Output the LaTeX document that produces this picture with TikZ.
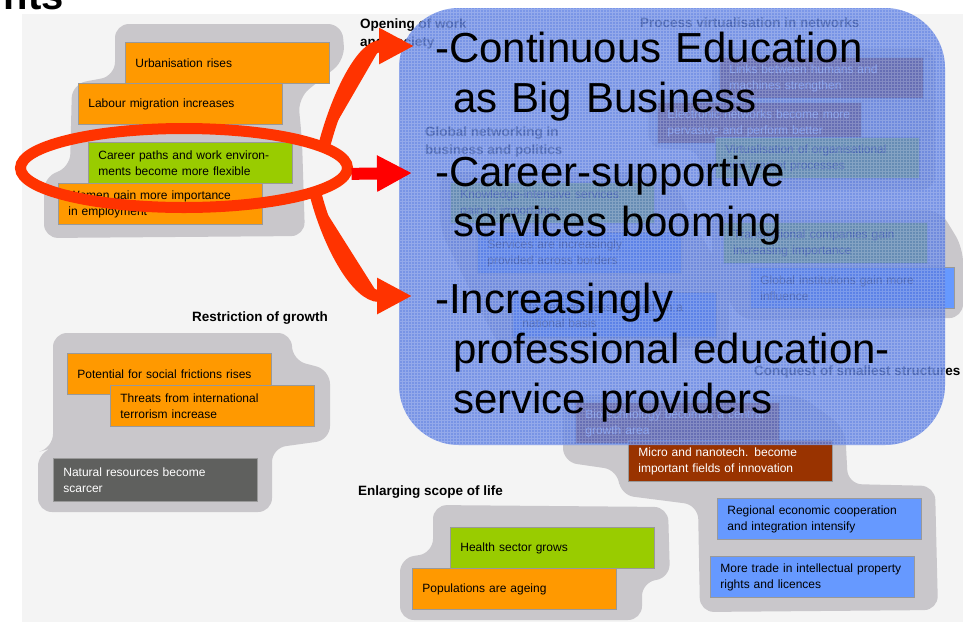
\documentclass[tikz,border=0pt]{standalone}
\usepackage{fontspec}
\setmainfont{Liberation Sans}
\usepackage{tikz}
\usetikzlibrary{positioning, shapes.geometric, arrows.meta}

\definecolor{boxorange}{HTML}{FF9900}
\definecolor{boxgreen}{HTML}{99CC00}
\definecolor{boxblue}{HTML}{6699FF}
\definecolor{boxbrown}{HTML}{993300}
\definecolor{boxdark}{HTML}{5F605E}
\definecolor{blobgray}{HTML}{C9C7CB}
\definecolor{slidebg}{HTML}{F4F4F4}
\definecolor{markred}{HTML}{FF3300}
\definecolor{overblue}{HTML}{5A7DE2}

\tikzset{
  box/.style={draw=gray!80, line width=0.8pt, anchor=north west, minimum height=41pt,
    text width=184pt, inner xsep=10pt, align=left, font=\fontsize{12}{16}\selectfont},
  lbl/.style={anchor=west, align=left, inner sep=0pt, font=\bfseries\fontsize{13.5}{18}\selectfont},
  bigtext/.style={anchor=base west, inner sep=0pt, text width=520pt, align=left,
    font=\fontsize{42}{50}\selectfont},
  blob/.style={fill=blobgray, rounded corners=14pt},
  redarrow/.style={draw=markred, fill=markred, line width=12pt, -{Triangle[length=35pt,width=34pt]}}
}

\begin{document}
\begin{tikzpicture}[x=1pt,y=-1pt]
\useasboundingbox (0,0) rectangle (963,622);
\clip (0,0) rectangle (963,622);
\fill[slidebg] (22,14) rectangle (963,622);
\node[anchor=base east, inner sep=0pt, font=\bfseries\fontsize{40}{48}\selectfont] (title) at (64,9) {nts};

\fill[blob] (115,24) -- (342,24) -- (345,60) -- (298,98) -- (302,140) -- (305,236) -- (44,238)
  -- (44,176) -- (70,168) -- (72,84) -- (115,76) -- cycle;
\fill[blob] (53,333) -- (292,333) -- (292,360) -- (330,370) -- (330,440) -- (272,448)
  -- (272,512) -- (38,512) -- (38,452) -- (53,448) -- cycle;
\fill[blob] (433,505) -- (668,507) -- (670,578) -- (642,582) -- (642,620) -- (400,620)
  -- (400,558) -- (433,553) -- cycle;
\fill[blob] (563,395) -- (800,395) -- (845,428) -- (848,484) -- (935,486) -- (938,610)
  -- (700,612) -- (698,505) -- (620,495) -- (618,470) -- (563,462) -- cycle;
\fill[blob] (712,48) -- (935,48) -- (935,190) -- (700,190) -- (700,150) -- (648,148)
  -- (648,95) -- (712,92) -- cycle;
\fill[blob] (440,172) -- (670,172) -- (695,225) -- (730,285) -- (728,348) -- (500,348)
  -- (465,280) -- (440,230) -- cycle;
\fill[blob] (712,210) -- (940,210) -- (963,248) -- (963,318) -- (740,320) -- (712,270) -- cycle;

\node[box, fill=boxorange] (urban) at (125,42) {Urbanisation rises};
\node[box, fill=boxorange] (labour) at (78,83) {Labour migration increases};
\node[box, fill=boxorange] (women) at (58,183) {Women gain more importance\\in employment};
\node[box, fill=boxgreen] (career) at (88,142) {Career paths and work environ-\\ments become more flexible};

\node[lbl] (restrict) at (192,318) {Restriction of growth};
\node[box, fill=boxorange] (frict) at (67,353) {Potential for social frictions rises};
\node[box, fill=boxorange] (terror) at (110,385) {Threats from international\\terrorism increase};
\node[box, fill=boxdark, text=white, minimum height=43pt] (natres) at (53,458) {Natural resources become\\scarcer};

\node[lbl] (enlarge) at (358,492) {Enlarging scope of life};
\node[box, fill=boxgreen] (health) at (450,527) {Health sector grows};
\node[box, fill=boxorange] (ageing) at (412,568) {Populations are ageing};

\node[lbl] (conquest) at (754,372) {Conquest of smallest structures};
\node[box, fill=boxbrown, text=white] (biotech) at (575,402) {Biotechnology becomes a central\\growth area};
\node[box, fill=boxbrown, text=white] (nano) at (628,440) {Micro and nanotech. become\\important fields of innovation};
\node[box, fill=boxblue] (regional) at (717,498) {Regional economic cooperation\\and integration intensify};
\node[box, fill=boxblue] (trade) at (710,556) {More trade in intellectual property\\rights and licences};

\node[lbl] (opening) at (360,34) {Opening of work\\and society};
\node[lbl] (process) at (640,23) {Process virtualisation in networks};
\node[box, fill=boxbrown, text=white] (links) at (719,57) {Links between humans and\\machines strengthen};
\node[box, fill=boxbrown, text=white] (enets) at (657,102) {Electronic networks become more\\pervasive and perform better};
\node[box, fill=boxgreen] (virt) at (715,137) {Virtualisation of organisational\\and market processes};

\node[lbl] (globnet) at (425,142) {Global networking in\\business and politics};
\node[box, fill=boxgreen] (knowl) at (450,182) {Knowledge-intensive services\\gain in importance};
\node[box, fill=boxblue] (borders) at (477,232) {Services are increasingly\\provided across borders};
\node[box, fill=boxblue, minimum height=45pt] (markets) at (512,292) {Markets are less defined on a\\national basis};
\node[box, fill=boxgreen] (transnat) at (723,222) {Transnational companies gain\\increasing importance};
\node[box, fill=boxblue] (globinst) at (750,267) {Global institutions gain more\\influence};

\fill[overblue, fill opacity=0.8, rounded corners=60pt] (399,8) rectangle (945,445);
\begin{scope}
  \clip[rounded corners=60pt] (399,8) rectangle (945,445);
  \draw[white, opacity=0.2, line width=0.4pt, step=3pt] (399,8) grid (945,445);
\end{scope}

\node[bigtext] (edu) at (435,62) {-Continuous Education\\\hspace*{18pt}as Big Business};
\node[bigtext] (support) at (435,186) {-Career-supportive\\\hspace*{18pt}services booming};
\node[bigtext] (provider) at (435,313) {-Increasingly\\\hspace*{18pt}professional education-\\\hspace*{18pt}service providers};

\node[ellipse, draw=markred, line width=11pt, minimum width=327pt, minimum height=79pt, inner sep=0pt] (oval) at (184,168) {};
\coordinate (tip1) at (414,46);
\coordinate (tip2) at (412,173);
\coordinate (tip3) at (412,296);
\draw[redarrow] (oval.10) to[out=75, in=180] (tip1);
\draw[redarrow, draw=red, fill=red] (oval.-2) -- (tip2);
\draw[redarrow] (oval.-12) to[out=-75, in=180] (tip3);
\end{tikzpicture}
\end{document}
